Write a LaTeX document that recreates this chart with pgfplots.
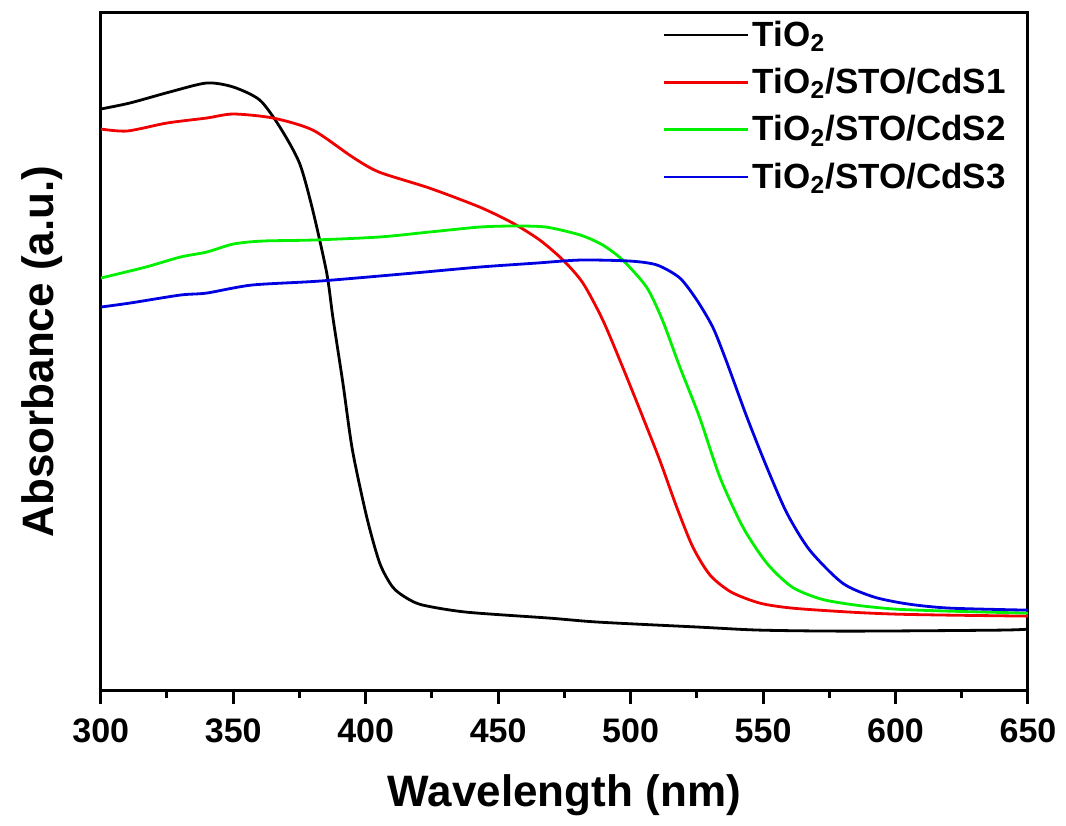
\documentclass[border=0pt]{standalone}
\usepackage{fontspec}
\setmainfont{Liberation Sans}
\usepackage{pgfplots}
\pgfplotsset{compat=1.18}
\definecolor{cBlack}{RGB}{0,0,0}
\definecolor{cRed}{RGB}{240,0,0}
\definecolor{cGreen}{RGB}{0,240,0}
\definecolor{cBlue}{RGB}{0,0,225}
\begin{document}
\begin{tikzpicture}
\begin{axis}[
  scale only axis,
  width=463.5pt, height=338.5pt,
  xmin=300, xmax=650, ymin=0, ymax=677,
  xtick={300,350,...,650},
  minor x tick num=1,
  ytick=\empty,
  xtick pos=bottom,
  tick align=outside,
  major tick length=7pt,
  minor tick length=4pt,
  axis line style={line width=1.5pt},
  every tick/.style={line width=1.5pt, black},
  /pgf/number format/assume math mode=true,
  ticklabel style={font=\bfseries\fontsize{17}{17}\selectfont, yshift=-4pt},
  xlabel={\bfseries Wavelength (nm)},
  ylabel={\bfseries Absorbance (a.u.)},
  label style={font=\bfseries\fontsize{22}{22}\selectfont},
  xlabel style={yshift=-9pt},
  ylabel style={yshift=8.5pt},
  legend style={draw=none, fill=none, at={(0.605,0.995)}, anchor=north west,
    font=\bfseries\fontsize{17.5}{23}\selectfont, row sep=5.5pt,
    inner sep=0pt},
  legend cell align=left,
  legend image code/.code={\draw[#1] (0pt,0pt) -- (42pt,0pt);},
  every axis plot/.append style={line width=1.4pt, smooth, tension=0.45},
]
\addplot[cBlack] coordinates {
(300,581) (311,587) (326,598) (340,607) (350,603) (360,590) (367.6,563)
(375,527) (380,480) (385.3,417) (387.6,373) (391.4,307) (395,240)
(400.4,173) (405.3,127) (410.2,103) (415.5,92) (421.6,85) (438,78)
(469.5,72) (488,68) (526,63) (549,60) (583,59) (639,60) (650,61)
};
\addlegendentry{TiO\textsubscript{2}}
\addplot[cRed] coordinates {
(300,561) (310,559) (325,567) (340,572) (350,576) (365,572) (380,560)
(395,533) (405,518) (424,502) (443,483) (455.5,467) (465.7,450)
(474.5,430) (482,407) (489.5,370) (497,323) (504.6,273)
(511,230) (517.4,183) (523.5,143) (530,115) (538,98) (548.8,87)
(561,82) (583,78) (600,76) (620,75) (650,74)
};
\addlegendentry{TiO\textsubscript{2}/STO/CdS1}
\addplot[cGreen] coordinates {
(300,412) (317,423) (330,433) (340,438) (350,446) (361,449) (380,450)
(405,453) (424,458) (443,463) (455.5,464) (468,463) (481,455)
(489.5,445) (497,430) (506,403) (512,370) (518.6,323) (526,273)
(533.7,213) (542.4,163) (551.4,127) (561,103) (572,91) (585,85)
(600,81) (620,79) (650,77)
};
\addlegendentry{TiO\textsubscript{2}/STO/CdS2}
\addplot[cBlue] coordinates {
(300,383) (311,387) (330,395) (340,397) (357,405) (382.7,409) (418,417)
(443,423) (464.6,427) (481,430) (499.7,429) (510,425) (518.6,412)
(525,390) (531,363) (536,330) (543.9,273) (551.4,223) (559,177)
(567.6,140) (580,107) (592,93) (605,86) (620.5,82) (650,80)
};
\addlegendentry{TiO\textsubscript{2}/STO/CdS3}
\end{axis}
\path ([yshift=6.5pt]current axis.north)
      ([xshift=-7.5pt]current axis.outer west)
      ([yshift=-1.5pt]current axis.outer south)
      ([xshift=1.5pt]current axis.outer east);
\end{tikzpicture}
\end{document}
